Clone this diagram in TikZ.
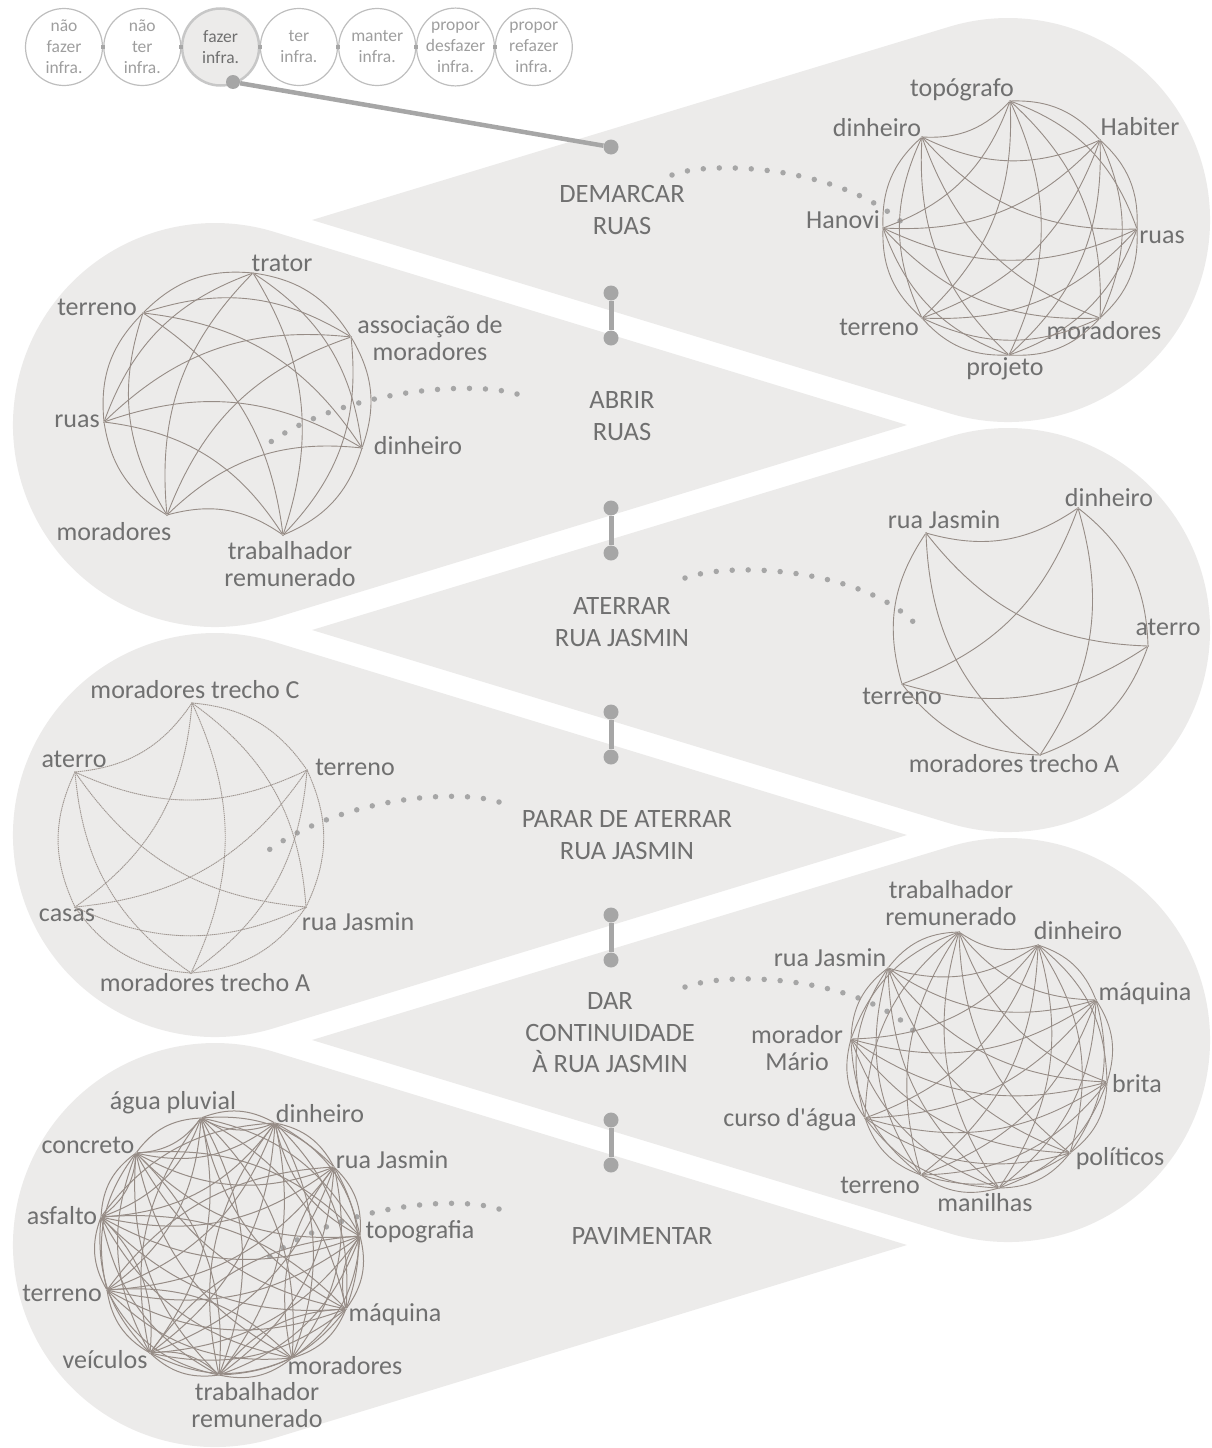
\documentclass[tikz,border=0pt]{standalone}
\usepackage{fontspec}
\setmainfont{Carlito}
\usetikzlibrary{calc}

\definecolor{blob}{RGB}{236,235,234}
\definecolor{lbl}{RGB}{112,112,112}
\definecolor{edg}{RGB}{150,140,134}
\definecolor{dotc}{RGB}{166,166,166}
\definecolor{ring}{RGB}{190,190,190}

\tikzset{
  vtx/.style={circle, fill=edg, inner sep=0pt, minimum size=2pt},
  word/.style={text=lbl, font=\fontsize{26}{27}\selectfont, align=center, inner sep=1pt},
  stage/.style={text=lbl, font=\fontsize{26.5}{31.5}\selectfont, align=center},
  edge/.style={draw=edg, line width=0.9pt},
  fuzzy/.style={edge, draw=edg!90, dash pattern=on 1.4pt off 0.6pt},
  knob/.style={circle, fill=dotc, inner sep=0pt, minimum size=15pt},
  bar/.style={draw=dotc, line width=5pt},
  trail/.style={draw=dotc, line width=5.5pt, line cap=round, dash pattern=on 0pt off 16pt},
  ball/.style={circle, draw=ring, line width=1.2pt, minimum size=77pt, inner sep=0pt,
    align=center, text=black!38, font=\fontsize{17.5}{21}\selectfont},
}

\begin{document}
\begin{tikzpicture}[x=1pt, y=-1pt]
\useasboundingbox (0,0) rectangle (1211,1448);
\pgfmathsetmacro\rr{202}
\pgfmathsetmacro\tang{acos(\rr/696)}
\pgfmathsetmacro\ta{180-\tang}
\pgfmathsetmacro\tb{\tang-180}
\pgfmathsetmacro\tc{360-\tang}

% gotas
\foreach \cy in {220,630,1040}
  \fill[blob] (312,\cy) -- ($(1008,\cy)+(\ta:\rr)$) arc[start angle=\ta, end angle=\tb, radius=\rr] -- cycle;
\foreach \cy in {425,835,1245}
  \fill[blob] (907,\cy) -- ($(215,\cy)+(\tang:\rr)$) arc[start angle=\tang, end angle=\tc, radius=\rr] -- cycle;

% linha do tempo
\node[ball] (p1) at (64,47) {não\\fazer\\infra.};
\node[ball] (p2) at (142.3,47) {não\\ter\\infra.};
\node[ball, fill=blob, draw=black!22, line width=2.5pt, text=lbl] (p3) at (220.6,47) {fazer\\infra.};
\node[ball] (p4) at (298.9,47) {ter\\infra.};
\node[ball] (p5) at (377.2,47) {manter\\infra.};
\node[ball] (p6) at (455.5,47) {propor\\desfazer\\infra.};
\node[ball] (p7) at (533.8,47) {propor\\refazer\\infra.};
\foreach \i/\j in {1/2,2/3,3/4,4/5,5/6,6/7}
  \draw[draw=dotc, line width=3.5pt, line cap=rect] (p\i.east) -- (p\j.west);

\node[knob, minimum size=14pt] (fz) at (233,82) {};
\node[knob] (k1) at (611,147) {};
\node[knob] (k2a) at (611,293) {};
\node[knob] (k2b) at (611,338) {};
\node[knob] (k3a) at (611,508) {};
\node[knob] (k3b) at (611,553) {};
\node[knob] (k4a) at (611,712) {};
\node[knob] (k4b) at (611,757) {};
\node[knob] (k5a) at (611,915) {};
\node[knob] (k5b) at (611,960) {};
\node[knob] (k6a) at (611,1120) {};
\node[knob] (k6b) at (611,1165) {};
\draw[bar, line width=4.5pt] (fz) -- (k1);
\foreach \s in {2,...,6}
  \draw[bar] (k\s a) -- (k\s b);

% etapas
\node[stage] (demarcar) at (622,210) {DEMARCAR\\RUAS};
\node[stage] (abrir) at (622,416) {ABRIR\\RUAS};
\node[stage] (aterrar) at (622,622) {ATERRAR\\RUA JASMIN};
\node[stage] (parar) at (627,835) {PARAR DE ATERRAR\\RUA JASMIN};
\node[stage] (dar) at (610,1033) {DAR\\CONTINUIDADE\\À RUA JASMIN};
\node[stage] (pavimentar) at (642,1236) {PAVIMENTAR};

% trilhas pontilhadas
\coordinate (t1a) at (672,175);  \coordinate (t1b) at (906,226);
\coordinate (t2a) at (517,394);  \coordinate (t2b) at (265,446);
\coordinate (t3a) at (685,578);  \coordinate (t3b) at (919,628);
\coordinate (t4a) at (499,802);  \coordinate (t4b) at (266,852);
\coordinate (t5a) at (685,987);  \coordinate (t5b) at (919,1037);
\coordinate (t6a) at (499,1209); \coordinate (t6b) at (266,1259);
\draw[trail] (t1a) .. controls (710,160) and (840,165) .. (t1b);
\draw[trail] (t2a) .. controls (470,380) and (340,390) .. (t2b);
\draw[trail] (t3a) .. controls (735,560) and (870,570) .. (t3b);
\draw[trail] (t4a) .. controls (455,788) and (340,798) .. (t4b);
\draw[trail] (t5a) .. controls (735,969) and (870,979) .. (t5b);
\draw[trail] (t6a) .. controls (455,1195) and (340,1205) .. (t6b);

% redes
\foreach \vx/\vy/\dx/\dy/\txt [count=\k] in {1010/101/-48/-11/topógrafo, 1100/140/40/-13/Habiter,
    1137/229/25/8/ruas, 1100/318/4/13/moradores, 1009/355/-4/14/projeto,
    922/318/-43/9/terreno, 883/228/-40/-8/Hanovi, 922/137/-45/-9/dinheiro} {
  \node[vtx] (a\k) at (\vx,\vy) {};
  \node[word] (la\k) at ($(a\k)+(\dx,\dy)$) {\txt};}
\foreach \i in {1,...,7} {\pgfmathtruncatemacro\nx{\i+1}
  \foreach \j in {\nx,...,8} {\draw[edge] (a\i) to[bend left=25] (a\j);}}

\foreach \vx/\vy/\dx/\dy/\txt [count=\k] in {167/515/-53/17/moradores,
    104/422/-27/-1/ruas, 143/313/-46/-6/terreno, 253/273/29/-10/trator,
    351/337/79/1/{associação de\\moradores}, 362/448/56/-2/dinheiro,
    283/535/7/29/{trabalhador\\remunerado}} {
  \node[vtx] (b\k) at (\vx,\vy) {};
  \node[word] (lb\k) at ($(b\k)+(\dx,\dy)$) {\txt};}
\foreach \i in {1,...,6} {\pgfmathtruncatemacro\nx{\i+1}
  \foreach \j in {\nx,...,7} {\draw[edge] (b\i) to[bend left=25] (b\j);}}

\foreach \vx/\vy/\dx/\dy/\txt [count=\k] in {1078/508/31/-10/dinheiro,
    1148/646/20/-19/aterro, 1040/755/-26/9/moradores trecho A,
    902/684/0/12/terreno, 926/533/18/-13/rua Jasmin} {
  \node[vtx] (c\k) at (\vx,\vy) {};
  \node[word] (lc\k) at ($(c\k)+(\dx,\dy)$) {\txt};}
\foreach \i in {1,...,4} {\pgfmathtruncatemacro\nx{\i+1}
  \foreach \j in {\nx,...,5} {\draw[edge] (c\i) to[bend left=25] (c\j);}}

\foreach \vx/\vy/\dx/\dy/\txt [count=\k] in {192/703/3/-13/moradores trecho C,
    307/770/48/-3/terreno, 306/907/52/15/rua Jasmin,
    191/973/14/10/moradores trecho A, 75/907/-8/8/casas, 75/772/-1/-13/aterro} {
  \node[vtx] (d\k) at (\vx,\vy) {};
  \node[word] (ld\k) at ($(d\k)+(\dx,\dy)$) {\txt};}
\foreach \i in {1,...,5} {\pgfmathtruncatemacro\nx{\i+1}
  \foreach \j in {\nx,...,6} {\draw[fuzzy] (d\i) to[bend left=25] (d\j);}}

\foreach \vx/\vy/\dx/\dy/\txt [count=\k] in {1038/945/40/-14/dinheiro,
    1096/1000/49/-6/máquina, 1107/1082/30/2/brita, 1070/1153/50/6/políticos,
    999/1188/-14/15/manilhas, 921/1175/-41/10/terreno,
    865/1118/-75/2/curso d\textquotesingle água,
    851/1039/-54/9/{morador\\Mário}, 888/968/-58/-10/rua Jasmin,
    959/932/-8/-29/{trabalhador\\remunerado}} {
  \node[vtx] (e\k) at (\vx,\vy) {};
  \node[word] (le\k) at ($(e\k)+(\dx,\dy)$) {\txt};}
\foreach \i in {1,...,9} {\pgfmathtruncatemacro\nx{\i+1}
  \foreach \j in {\nx,...,10} {\draw[edge] (e\i) to[bend left=25] (e\j);}}

\foreach \vx/\vy/\dx/\dy/\txt [count=\k] in {201/1118/-28/-15/água pluvial,
    275/1123/45/-9/dinheiro, 334/1167/58/-7/rua Jasmin, 360/1236/60/-4/topografia,
    346/1309/49/6/máquina, 292/1358/53/8/moradores,
    219/1375/38/30/{trabalhador\\remunerado}, 150/1353/-45/7/veículos,
    107/1290/-45/3/terreno, 101/1217/-39/-1/asfalto, 136/1153/-48/-8/concreto} {
  \node[vtx] (f\k) at (\vx,\vy) {};
  \node[word] (lf\k) at ($(f\k)+(\dx,\dy)$) {\txt};}
\foreach \i in {1,...,10} {\pgfmathtruncatemacro\nx{\i+1}
  \foreach \j in {\nx,...,11} {
    \draw[edge, line width=1pt] (f\i) to[bend left=25] (f\j);
    \pgfmathtruncatemacro\odd{mod(\i+\j,3)}
    \ifnum\odd=0 \draw[edge, line width=1pt] (f\j) to[bend left=25] (f\i);\fi}}
\end{tikzpicture}
\end{document}
